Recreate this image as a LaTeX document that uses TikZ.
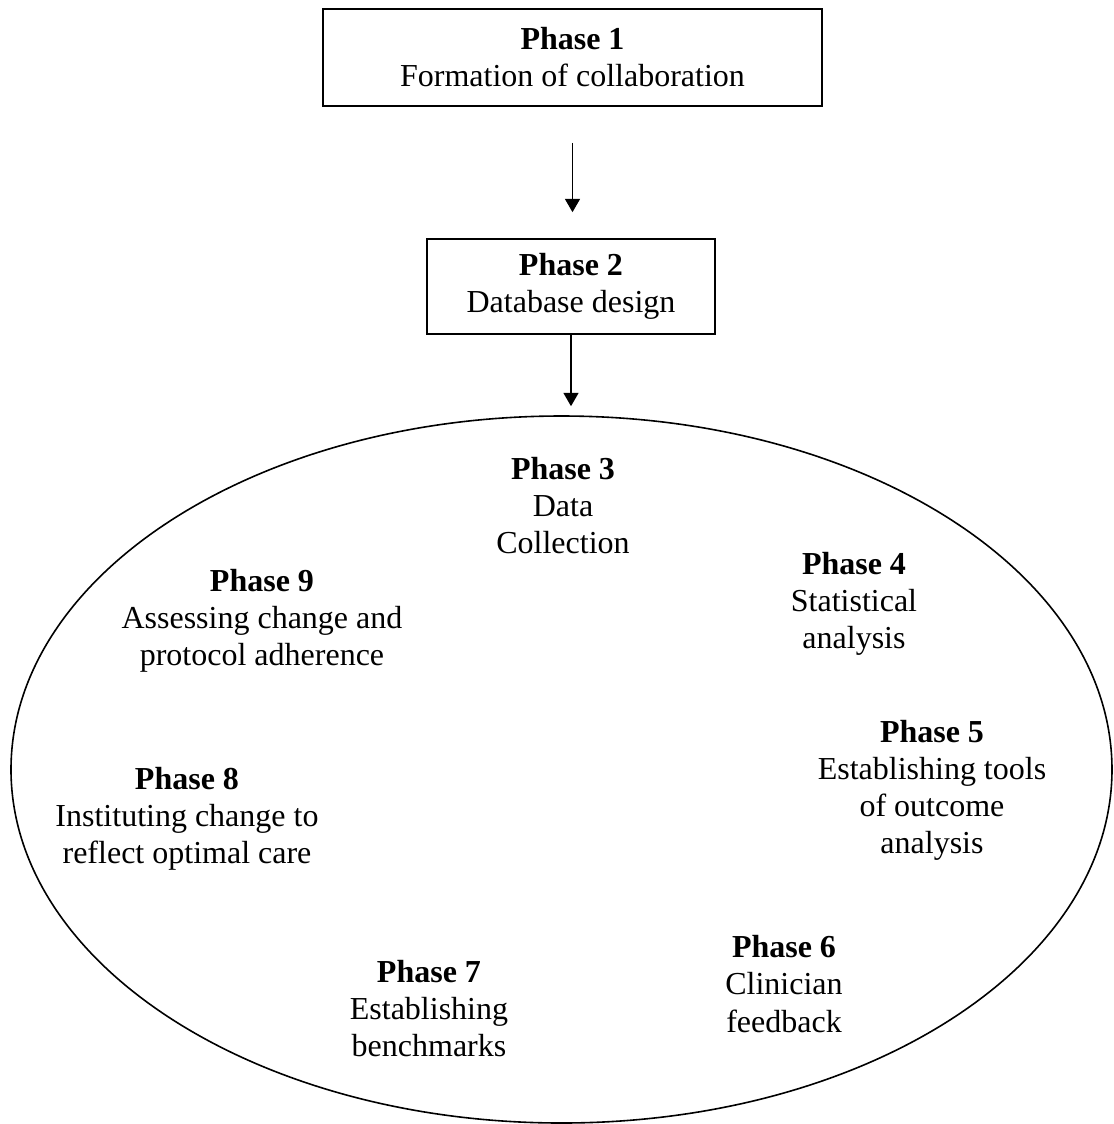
\documentclass[tikz,border=0pt]{standalone}
\usepackage{fontspec}
\setmainfont{Liberation Serif}
\usetikzlibrary{arrows.meta,shapes.geometric}
\newcommand\pxu{0.375pt}
\tikzset{
  phase/.style={align=center, font=\fontsize{12}{13.9}\selectfont},
  phasebox/.style={phase, draw, line width=0.6pt, inner sep=0pt},
  flow/.style={-{Triangle[length=5pt,width=5.6pt]}, line width=0.6pt},
}
\begin{document}
\begin{tikzpicture}[x=\pxu, y=-\pxu]
  \useasboundingbox (0,0) rectangle (1114,1124);

  \node[phasebox, minimum width=499*\pxu, minimum height=97*\pxu] (p1) at (572.5,57.5)
    {\textbf{Phase 1}\\Formation of collaboration};
  \node[phasebox, minimum width=288*\pxu, minimum height=95*\pxu] (p2) at (571,286.5)
    {\textbf{Phase 2}\\Database design};

  \node[draw, ellipse, line width=0.6pt, inner sep=0pt,
        minimum width=1101*\pxu, minimum height=707*\pxu] (ring) at (561.5,769.5) {};

  \draw[flow, shorten <=36*\pxu, shorten >=26*\pxu] (p1.south) -- (p1.south |- p2.north);
  \draw[flow, shorten >=9*\pxu] (p2.south) -- (p2.south |- ring.north);

  % Zyklus
  \node[phase] (p3) at (563,505.5) {\textbf{Phase 3}\\Data\\Collection};
  \node[phase] (p4) at (854,604) {\textbf{Phase 4}\\Statistical\\analysis};
  \node[phase] (p5) at (932,790) {\textbf{Phase 5}\\Establishing tools\\of outcome\\analysis};
  \node[phase] (p6) at (784,984) {\textbf{Phase 6}\\Clinician\\feedback};
  \node[phase] (p7) at (429,1008.5) {\textbf{Phase 7}\\Establishing\\benchmarks};
  \node[phase] (p8) at (187,819) {\textbf{Phase 8}\\Instituting change to\\reflect optimal care};
  \node[phase] (p9) at (262,621) {\textbf{Phase 9}\\Assessing change and\\protocol adherence};
\end{tikzpicture}
\end{document}
